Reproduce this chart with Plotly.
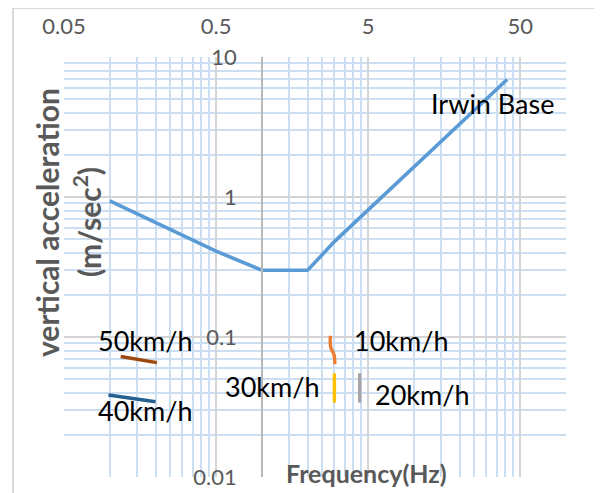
import math
import plotly.graph_objects as go

# ---- data ----
irwin_freq = [0.1, 0.5, 1, 2, 3, 5, 10, 20, 41]
irwin_acc = [0.94, 0.41, 0.30, 0.30, 0.48, 0.81, 1.64, 3.35, 6.9]

v10_freq = [2.82, 2.84, 2.98, 3.02]
v10_acc = [0.102, 0.084, 0.075, 0.064]

v20_freq = [4.4, 4.4]
v20_acc = [0.055, 0.034]

v30_freq = [3.0, 3.0]
v30_acc = [0.055, 0.034]

v40_freq = [0.098, 0.2]
v40_acc = [0.0385, 0.0345]

v50_freq = [0.118, 0.204]
v50_acc = [0.0725, 0.0656]

x_tickvals = [0.05, 0.5, 5, 50]
x_ticktext = ["0.05", "0.5", "5", "50"]
y_tickvals = [0.01, 0.1, 1, 10]
y_ticktext = ["0.01", "0.1", "1", "10"]

x_minor = [0.05 * n * 10 ** k for k in range(0, 4) for n in range(2, 10) if 0.05 * n * 10 ** k <= 100.001]
y_minor = [n * 10 ** k for k in range(-2, 1) for n in range(2, 10)]

FONT = "Lato"
GRAY_TXT = "#595959"
MAJOR = "#D4D4D4"
MINOR = "#CCDEF2"

fig = go.Figure()
fig.add_trace(go.Scatter(x=irwin_freq, y=irwin_acc, mode="lines",
                         line=dict(color="#5B9BD5", width=3.6), name="Irwin Base"))
fig.add_trace(go.Scatter(x=v10_freq, y=v10_acc, mode="lines",
                         line=dict(color="#ED7D31", width=3.4, shape="spline"), name="10km/h"))
fig.add_trace(go.Scatter(x=v20_freq, y=v20_acc, mode="lines",
                         line=dict(color="#A5A5A5", width=3.4), name="20km/h"))
fig.add_trace(go.Scatter(x=v30_freq, y=v30_acc, mode="lines",
                         line=dict(color="#FFC000", width=3.4), name="30km/h"))
fig.add_trace(go.Scatter(x=v40_freq, y=v40_acc, mode="lines",
                         line=dict(color="#255E91", width=3.4), name="40km/h"))
fig.add_trace(go.Scatter(x=v50_freq, y=v50_acc, mode="lines",
                         line=dict(color="#9E480E", width=3.4), name="50km/h"))

# page body has an 8px default margin, so the figure is drawn 8px smaller
OFF = 8
W, H = 602 - OFF, 493 - OFF
L, R, T, B = 64 - OFF, 36, 57 - OFF, 16
pw, ph = W - L - R, H - T - B


def px(xp):  # reference-pixel x -> paper fraction
    return (xp - OFF - L) / pw


def py(yp):  # reference-pixel y -> paper fraction
    return (H - B - (yp - OFF)) / ph


fig.update_layout(
    width=W, height=H,
    margin=dict(l=L, r=R, t=T, b=B, autoexpand=False),
    paper_bgcolor="white", plot_bgcolor="white",
    showlegend=False,
    font=dict(family=FONT, color=GRAY_TXT),
    xaxis=dict(
        type="log", range=[math.log10(0.05), math.log10(100)],
        side="top", tickmode="array", tickvals=x_tickvals, ticktext=x_ticktext,
        tickfont=dict(size=22, color=GRAY_TXT, family=FONT),
        ticks="", ticklabelstandoff=18, automargin=False,
        showgrid=True, gridcolor=MAJOR, gridwidth=1.5,
        showline=False, zeroline=False,
        minor=dict(tickmode="array", tickvals=x_minor, showgrid=True,
                   gridcolor=MINOR, gridwidth=1.5, ticks=""),
    ),
    yaxis=dict(
        type="log", range=[-2, 1],
        anchor="free", position=px(262), side="left", automargin=False,
        tickmode="array", tickvals=y_tickvals, ticktext=y_ticktext,
        tickfont=dict(size=22, color=GRAY_TXT, family=FONT),
        ticks="", ticklabelstandoff=20,
        showgrid=True, gridcolor=MAJOR, gridwidth=1.5,
        showline=True, linecolor="#B8B8B8", linewidth=1.5,
        zeroline=False,
        minor=dict(tickmode="array", tickvals=y_minor, showgrid=True,
                   gridcolor=MINOR, gridwidth=1.5, ticks=""),
    ),
)

# outer chart border
fig.add_shape(type="rect", xref="paper", yref="paper",
              x0=px(13), x1=px(597), y0=py(520), y1=py(8),
              line=dict(color="#D9D9D9", width=2), fillcolor="rgba(0,0,0,0)", layer="below")

labels = [
    ("Irwin Base", 492, 103),
    ("50km/h", 145, 340),
    ("40km/h", 145, 410),
    ("30km/h", 272, 386),
    ("10km/h", 401, 340),
    ("20km/h", 422, 394),
]
for text, x, y in labels:
    fig.add_annotation(text=text, xref="paper", yref="paper", x=px(x), y=py(y),
                       xanchor="center", yanchor="middle", showarrow=False,
                       font=dict(family=FONT, size=27, color="black"))

# axis titles
fig.add_annotation(text="<b>vertical acceleration</b>", xref="paper", yref="paper",
                   x=px(47), y=py(223), xanchor="center", yanchor="middle",
                   textangle=-90, showarrow=False,
                   font=dict(family=FONT, size=30, color=GRAY_TXT))
fig.add_annotation(text="<b>(m/sec<sup>2</sup>)</b>", xref="paper", yref="paper",
                   x=px(87), y=py(222), xanchor="center", yanchor="middle",
                   textangle=-90, showarrow=False,
                   font=dict(family=FONT, size=30, color=GRAY_TXT))
fig.add_annotation(text="<b>Frequency(Hz)</b>", xref="paper", yref="paper",
                   x=px(366), y=py(473), xanchor="center", yanchor="middle",
                   showarrow=False,
                   font=dict(family=FONT, size=25, color=GRAY_TXT))

fig.write_html("out.html")
